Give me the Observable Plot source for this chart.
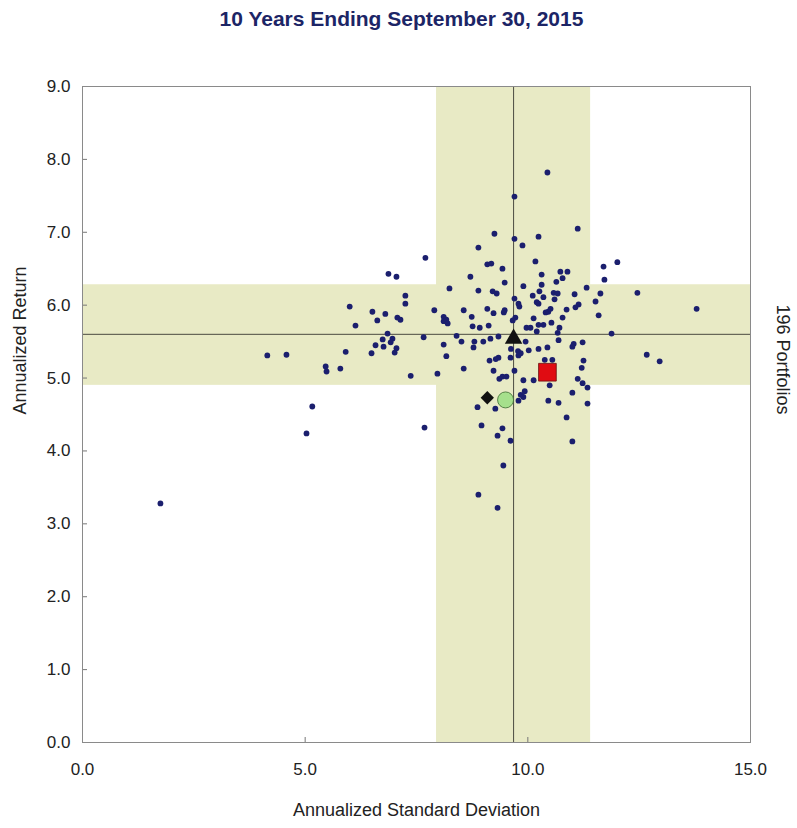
<!DOCTYPE html>
<html>
<head>
<meta charset="utf-8">
<script src="https://cdn.jsdelivr.net/npm/d3@7"></script>
<script src="https://cdn.jsdelivr.net/npm/@observablehq/plot@0.6"></script>
<style>
  html, body { margin: 0; padding: 0; background: #fff; }
  #title { height: 40px; line-height: 38px; text-align: center; font-family: "Liberation Sans Narrow", "Arial Narrow", "Liberation Sans", sans-serif; font-weight: bold; font-size: 21px; color: #1c2566; width: 797px; padding-left: 6px; box-sizing: border-box; }
  svg { display: block; }
</style>
</head>
<body>
<div id="title">10 Years Ending September 30, 2015</div>
<div id="chart"></div>
<script>
// Portfolio universe: annualized standard deviation (x) and annualized return (y)
const portStd = [1.75,4.15,4.58,5.03,5.16,5.46,5.48,5.79,5.91,6.00,6.13,7.70,6.87,7.05,8.24,8.71,8.89,7.25,7.25,6.51,
  6.80,6.62,7.07,7.14,7.90,8.11,8.17,8.11,8.20,8.56,8.74,8.76,8.92,6.85,6.74,6.96,6.92,6.58,6.76,7.05,
  7.01,6.49,7.66,8.11,8.40,8.51,8.80,8.78,8.17,8.56,7.37,7.68,10.44,9.70,9.25,9.70,10.24,9.88,8.89,9.09,
  9.18,9.43,10.17,9.48,10.31,10.73,10.89,10.78,10.64,10.31,9.90,10.26,10.11,10.20,10.24,10.35,10.58,10.67,10.60,10.87,
  10.46,10.40,10.78,10.53,10.71,10.67,10.13,9.97,10.06,10.20,10.24,10.35,9.79,9.81,9.70,9.72,9.66,9.48,9.46,9.23,
  9.09,9.21,9.30,9.12,9.34,9.16,9.00,9.95,10.24,10.44,10.69,11.12,11.70,11.72,11.32,11.63,11.52,11.05,11.14,11.07,
  10.51,12.01,12.46,13.79,11.59,11.88,11.23,11.03,11.00,11.25,11.21,11.12,11.23,11.34,11.00,10.46,10.69,11.34,12.67,12.96,
  10.38,10.55,10.49,9.62,9.78,9.84,9.79,10.02,9.14,9.34,9.28,9.61,9.23,9.43,9.70,9.36,9.52,9.90,10.13,9.93,
  9.84,9.90,9.79,8.87,9.27,10.87,8.96,9.43,9.32,9.61,11.00,9.45,8.89,9.32,7.97];
const portRet = [3.28,5.31,5.32,4.24,4.61,5.16,5.09,5.13,5.36,5.98,5.72,6.65,6.43,6.39,6.23,6.39,6.20,6.13,6.02,5.91,
  5.88,5.79,5.83,5.80,5.93,5.84,5.80,5.78,5.75,5.93,5.84,5.71,5.69,5.61,5.53,5.54,5.49,5.45,5.43,5.41,
  5.35,5.34,5.56,5.46,5.58,5.50,5.50,5.42,5.30,5.13,5.03,4.32,7.82,7.49,6.98,6.91,6.94,6.82,6.79,6.56,
  6.57,6.50,6.60,6.31,6.42,6.46,6.46,6.37,6.32,6.28,6.26,6.19,6.13,6.04,6.02,6.11,6.17,6.16,6.08,5.94,
  5.91,5.90,5.83,5.76,5.69,5.62,5.82,5.69,5.69,5.64,5.73,5.73,6.02,5.98,6.09,5.83,5.79,5.93,5.90,5.89,
  5.95,6.19,6.16,5.72,5.57,5.54,5.50,5.50,5.40,5.42,5.52,7.05,6.53,6.35,6.24,6.16,6.05,6.15,6.01,5.97,
  5.95,6.59,6.17,5.95,5.86,5.61,5.49,5.47,5.43,5.24,5.14,4.99,4.93,4.87,4.80,4.69,4.66,4.65,5.32,5.23,
  5.25,5.25,4.90,5.40,5.37,5.34,5.31,5.38,5.24,5.28,5.26,5.28,5.10,5.02,5.10,4.99,5.02,4.97,4.97,4.82,
  4.77,4.74,4.69,4.60,4.58,4.46,4.35,4.31,4.21,4.14,4.13,3.80,3.40,3.22,5.06];

// Highlighted portfolios / benchmarks
const markerNames = ["triangle", "square", "diamond", "circle"];
const markerStd = [9.68, 10.44, 9.09, 9.50];
const markerRet = [5.54, 5.08, 4.73, 4.70];

// Median lines and interquartile bands
const medianStd = 9.68;
const medianRet = 5.60;
const bandStd = [7.95, 11.41];
const bandRet = [4.90, 6.28];

const xTicks = [0, 5, 10, 15];
const yTicks = [0, 1, 2, 3, 4, 5, 6, 7, 8, 9];

const points = portStd.map((x, i) => ({x, y: portRet[i]}));
const markers = markerNames.map((name, i) => ({name, x: markerStd[i], y: markerRet[i]}));

const bandColor = "#e8eac5";
const narrow = "'Liberation Sans Narrow', 'Arial Narrow', 'Liberation Sans', sans-serif";

const chart = Plot.plot({
  width: 797,
  height: 788,
  marginLeft: 82,
  marginRight: 47,
  marginTop: 46,
  marginBottom: 86,
  style: {fontFamily: "'Liberation Sans', Arial, sans-serif", fontSize: "17px", color: "#222", background: "#fff"},
  x: {domain: [0, 15]},
  y: {domain: [0, 9]},
  marks: [
    Plot.rect([{x1: bandStd[0], x2: bandStd[1], y1: 0, y2: 9}], {x1: "x1", x2: "x2", y1: "y1", y2: "y2", fill: bandColor}),
    Plot.rect([{x1: 0, x2: 15, y1: bandRet[0], y2: bandRet[1]}], {x1: "x1", x2: "x2", y1: "y1", y2: "y2", fill: bandColor}),
    Plot.ruleX([medianStd], {stroke: "#4a4a40", strokeWidth: 1}),
    Plot.ruleY([medianRet], {stroke: "#4a4a40", strokeWidth: 1}),
    Plot.tickY(yTicks, {y: d => d, stroke: "#777", insetRight: 663}),
    Plot.tickX(xTicks, {x: d => d, stroke: "#777", insetTop: 651}),
    Plot.frame({stroke: "#8a8a8a", strokeWidth: 1}),
    Plot.axisY(yTicks, {tickSize: 0, tickPadding: 12, tickFormat: d => d.toFixed(1), label: null, fill: "#222"}),
    Plot.axisX(xTicks, {tickSize: 0, tickPadding: 20, tickFormat: d => d.toFixed(1), label: null, fill: "#222"}),
    Plot.dot(points, {x: "x", y: "y", r: 2.9, fill: "#1b1f6e", stroke: null}),
    Plot.dot(markers.filter(d => d.name === "square"), {x: "x", y: "y", symbol: "square", r: 10, fill: "#e00c12", stroke: "#6a1010", strokeWidth: 0.8}),
    Plot.dot(markers.filter(d => d.name === "circle"), {x: "x", y: "y", symbol: "circle", r: 8, fill: "#a6e08c", stroke: "#3c6b30", strokeWidth: 0.8}),
    Plot.dot(markers.filter(d => d.name === "diamond"), {x: "x", y: "y", symbol: "diamond2", r: 6, fill: "#111", stroke: null}),
    Plot.dot(markers.filter(d => d.name === "triangle"), {x: "x", y: "y", symbol: "triangle", r: 6.5, fill: "#111", stroke: null}),
    Plot.text(["Annualized Return"], {frameAnchor: "left", dx: -62, rotate: -90, fontSize: 18, fill: "#222", fontFamily: narrow}),
    Plot.text(["Annualized Standard Deviation"], {frameAnchor: "bottom", dy: 73, fontSize: 18, fill: "#222", fontFamily: narrow}),
    Plot.text(["196 Portfolios"], {frameAnchor: "right", dx: 32, rotate: 90, fontSize: 18, fill: "#222", fontFamily: narrow})
  ]
});
document.getElementById("chart").appendChild(chart);
</script>
</body>
</html>
